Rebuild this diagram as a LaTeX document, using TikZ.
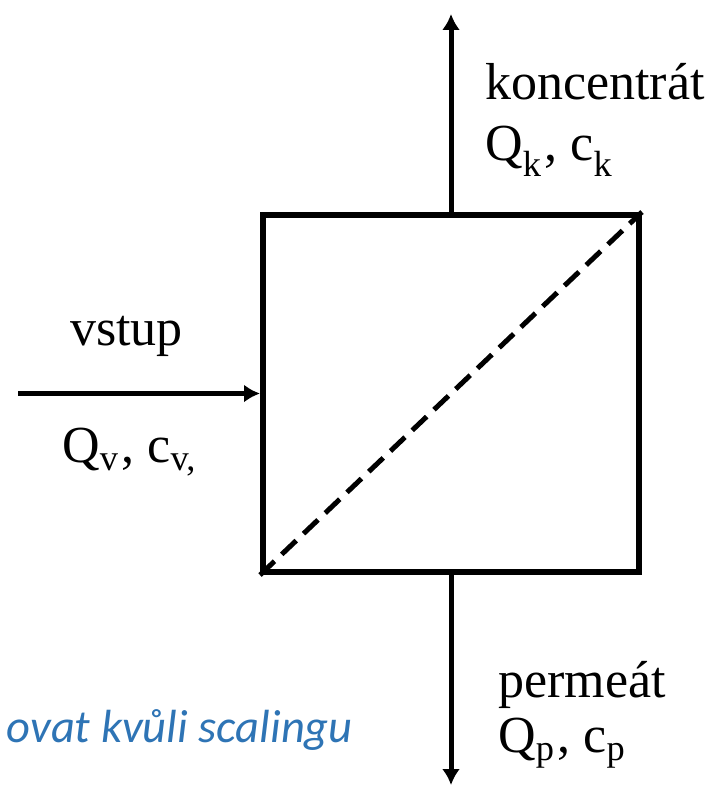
\documentclass[tikz,border=0pt]{standalone}
\usepackage{fontspec}
\setmainfont{Liberation Serif}
\newfontfamily\notefont{Carlito}
\usetikzlibrary{arrows.meta}
\definecolor{noteblue}{RGB}{46,116,181}

\begin{document}
\begin{tikzpicture}[x=1pt,y=-1pt,>={Latex[length=16pt,width=18pt]}]
  \tikzstyle{flow}=[->,line width=5pt]
  \tikzstyle{lbl}=[anchor=base west,inner sep=0pt,font=\fontsize{52}{60}\selectfont]
  \useasboundingbox (0,0) rectangle (720,789);
  \node[draw,line width=6pt,minimum width=376pt,minimum height=357pt,inner sep=0pt] (modul) at (451,393.5) {};
  \coordinate (vstupin) at (18,393.5);
  \coordinate (kout) at (451,14);
  \coordinate (pout) at (451,785);
  \draw[flow] (vstupin) -- (modul.west);
  \draw[flow] (modul.north) -- (kout);
  \draw[flow] (modul.south) -- (pout);
  \draw[line width=5pt,dash pattern=on 20pt off 10pt] (modul.south west) -- (modul.north east);
  \node[lbl] (konc) at (485,100) {koncentrát};
  \node[lbl] (kvel) at (485,160) {Q\textsubscript{k}\kern3pt, c\textsubscript{k}};
  \node[lbl] (vstup) at (70,345) {vstup};
  \node[lbl] (vvel) at (62,462) {Q\textsubscript{v}\kern3pt, c\textsubscript{v,}};
  \node[lbl] (perm) at (498,697) {permeát};
  \node[lbl] (pvel) at (498,752) {Q\textsubscript{p}\kern3pt, c\textsubscript{p}};
  \node[anchor=base east,inner sep=0pt,text=noteblue,font=\notefont\itshape\fontsize{46.5}{52}\selectfont] (pozn) at (353,742) {ovat kvůli scalingu};
\end{tikzpicture}
\end{document}
